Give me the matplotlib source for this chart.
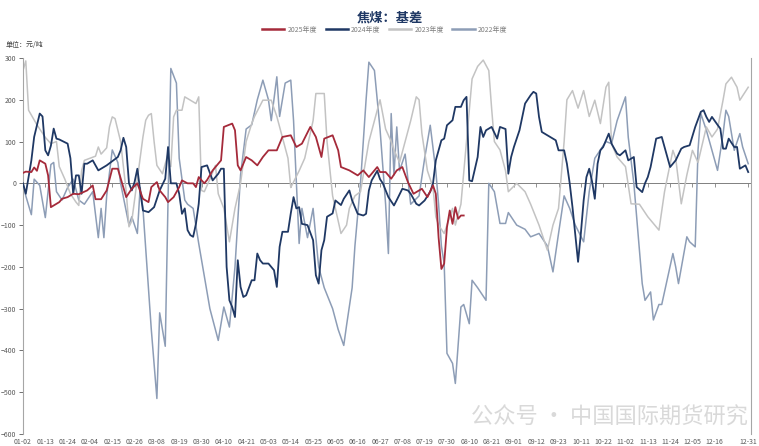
import matplotlib.pyplot as plt

plt.rcParams['font.family'] = ['Noto Sans CJK SC', 'DejaVu Sans']

# x axis: trading-day index, one label every 8 days
tick_labels = ['01-02', '01-13', '01-24', '02-04', '02-15', '02-26', '03-08', '03-19',
               '03-30', '04-10', '04-21', '05-03', '05-14', '05-25', '06-05', '06-16',
               '06-27', '07-08', '07-19', '07-30', '08-10', '08-21', '09-01', '09-12',
               '09-23', '10-11', '10-22', '11-02', '11-13', '11-24', '12-05', '12-16',
               '12-31']
tick_days = list(range(0, 249, 8)) + [260]

# 2025 basis (yuan/ton)
day_2025 = [0, 1, 3, 4, 5, 6, 8, 9, 10, 12, 13, 14, 16, 18, 20, 23, 25, 26, 28, 30,
            32, 34, 37, 39, 41, 43, 45, 46, 48, 49, 51, 52, 54, 56, 57, 59, 61, 62, 63,
            65, 66, 68, 71, 72, 75, 76, 77, 78, 80, 82, 84, 86, 88, 91, 93, 96, 98, 100,
            103, 105, 107, 108, 111, 113, 114, 117, 120, 122, 124, 127, 128, 130, 132,
            134, 136, 138, 140, 143, 145, 147, 148, 149, 150, 151, 152, 153, 154, 155,
            156, 157, 158]
val_2025 = [25, 28, 27, 38, 30, 55, 47, 19, -57, -49, -45, -37, -33, -25, -26, -17, -5,
            -38, -38, -17, 35, 35, -33, -13, 0, -37, -45, -9, 3, -17, -33, -45, -33, -9,
            7, 0, 0, -9, 15, 0, 8, 31, 55, 135, 143, 127, 43, 31, 63, 55, 43, 63, 79, 79,
            111, 115, 87, 95, 135, 111, 63, 107, 115, 79, 39, 31, 19, 31, 15, 39, 27, 27,
            11, 31, 39, 3, -25, -13, -33, -5, -25, -130, -205, -192, -105, -65, -97, -57,
            -85, -77, -77]

# 2024 basis
day_2024 = [0, 1, 3, 4, 6, 7, 8, 9, 10, 11, 12, 13, 16, 17, 18, 19, 20, 21, 22, 23, 25,
            27, 30, 34, 35, 36, 37, 38, 39, 40, 41, 42, 43, 45, 47, 49, 51, 52, 53, 55,
            56, 57, 58, 59, 60, 61, 62, 63, 64, 66, 68, 70, 71, 72, 73, 74, 75, 76, 77,
            78, 79, 80, 82, 83, 84, 85, 86, 88, 90, 91, 92, 93, 95, 96, 97, 98, 99, 100,
            102, 104, 105, 106, 107, 108, 109, 111, 112, 114, 115, 117, 118, 120, 122,
            123, 124, 125, 127, 128, 129, 131, 133, 134, 136, 138, 139, 141, 142, 144,
            146, 147, 148, 150, 151, 152, 154, 155, 157, 158, 159, 160, 161, 163, 164,
            165, 166, 168, 170, 171, 173, 174, 175, 176, 178, 180, 182, 183, 184, 185,
            186, 189, 191, 192, 194, 195, 196, 197, 199, 200, 201, 202, 203, 204, 205,
            206, 207, 208, 210, 211, 213, 214, 216, 217, 219, 220, 222, 223, 224, 225,
            227, 229, 230, 232, 234, 236, 237, 239, 241, 243, 244, 245, 246, 247, 249,
            250, 251, 252, 253, 255, 256, 257, 259, 260]
val_2024 = [0, -25, 55, 111, 167, 160, 79, 67, 90, 131, 107, 105, 95, 60, -25, 19, 19,
            -25, 47, 47, 55, 31, 43, 63, 79, 109, 87, 0, -17, 3, 35, -17, -65, -69, -57,
            -17, 11, 87, 0, 0, -25, -73, -60, -112, -124, -128, -97, -49, 39, 43, 7, 23,
            35, 35, -200, -280, -296, -320, -184, -248, -272, -268, -232, -232, -168,
            -184, -192, -192, -208, -248, -152, -116, -116, -72, -33, -60, -57, -97, -100,
            -136, -220, -240, -160, -136, -80, -72, -41, -52, -37, -17, -41, -73, -77,
            -73, -17, 7, 30, 10, 0, -33, -53, -40, -13, -17, -25, -49, -53, -41, -20, 0,
            55, 103, 107, 139, 151, 183, 183, 199, 207, 7, 5, 63, 135, 111, 127, 135, 107,
            135, 130, 23, 63, 87, 127, 191, 211, 219, 215, 159, 123, 111, 103, 79, 79, 47,
            0, -57, -188, -120, -41, 15, 35, 5, -37, 47, 79, 87, 119, 95, 71, 67, 79, 55,
            63, -9, -21, 0, 15, 39, 107, 111, 87, 39, 55, 83, 87, 91, 135, 171, 175, 159,
            147, 159, 140, 131, 83, 83, 107, 87, 87, 35, 43, 27]

# 2023 basis
day_2023 = [0, 1, 2, 5, 8, 10, 12, 13, 15, 17, 19, 20, 21, 22, 26, 27, 28, 30, 31, 32,
            33, 35, 36, 37, 38, 39, 40, 42, 43, 44, 45, 46, 47, 48, 50, 52, 53, 54, 55,
            57, 58, 60, 62, 63, 64, 65, 67, 69, 70, 72, 74, 76, 78, 80, 82, 83, 86, 89,
            91, 93, 95, 96, 99, 101, 104, 105, 108, 109, 111, 112, 114, 116, 117, 119,
            121, 123, 124, 126, 128, 130, 132, 133, 135, 137, 139, 141, 142, 143, 145,
            147, 148, 149, 151, 154, 155, 157, 159, 161, 163, 165, 167, 168, 169, 171,
            173, 174, 177, 180, 182, 185, 188, 190, 192, 194, 195, 197, 199, 201, 203,
            205, 207, 209, 210, 211, 213, 216, 218, 221, 224, 228, 230, 233, 234, 236,
            238, 240, 242, 245, 247, 249, 251, 252, 254, 256, 257, 260]
val_2023 = [270, 293, 175, 140, 110, 95, 100, 40, 10, -25, -45, -53, 30, 55, 65, 87, 70,
            85, 135, 159, 155, 100, 40, -20, -104, -90, -40, 60, 111, 151, 163, 167, 100,
            43, 23, 71, 40, 159, 175, 175, 207, 199, 191, 207, -17, -20, 10, 43, -25, -60,
            -140, -60, 0, 100, 143, 160, 199, 199, 160, 110, 60, -10, 30, 60, 150, 215,
            215, 100, -30, -60, -120, -100, -60, -30, -20, 60, 100, 150, 200, 130, 100, 80,
            50, 100, 150, 207, 200, 120, 30, -10, -80, -100, -120, -60, -100, -50, 100,
            250, 280, 295, 270, 180, 100, 80, 30, -20, 0, -20, -50, -100, -160, -100, -60,
            100, 200, 222, 180, 222, 160, 199, 143, 230, 242, 95, 63, 40, -49, -50, -80,
            -112, -20, 79, 60, -49, 20, 79, 50, 135, 111, 130, 200, 238, 254, 230, 199, 230]

# 2022 basis
day_2022 = [0, 1, 3, 4, 6, 8, 10, 11, 12, 14, 16, 18, 20, 22, 25, 27, 28, 29, 30, 32, 34,
            35, 38, 39, 41, 42, 43, 46, 48, 49, 51, 52, 53, 55, 56, 58, 59, 61, 63, 67,
            70, 72, 74, 76, 78, 80, 82, 84, 86, 88, 89, 91, 92, 94, 96, 97, 99, 100, 102,
            104, 106, 108, 111, 113, 115, 116, 118, 119, 121, 123, 124, 126, 128, 130,
            131, 132, 133, 134, 135, 137, 139, 142, 144, 146, 148, 149, 150, 151, 152,
            154, 155, 157, 158, 160, 161, 163, 166, 167, 169, 171, 173, 174, 177, 180,
            182, 185, 188, 190, 192, 194, 196, 198, 201, 203, 205, 209, 211, 213, 216,
            217, 219, 220, 222, 223, 225, 226, 228, 229, 233, 234, 235, 238, 239, 241,
            242, 243, 245, 247, 249, 251, 252, 253, 255, 257, 258, 260]
val_2022 = [0, -30, -75, 10, -5, -82, 45, 50, -20, -40, -10, 10, -40, -50, -20, -130, -60,
            -130, -30, 80, 50, 0, -100, -80, -120, -10, -60, -350, -515, -310, -390, -40,
            275, 240, 60, -40, -50, -60, -144, -300, -376, -296, -344, -200, 20, 130, 140,
            200, 247, 200, 150, 255, 160, 240, 247, 150, -144, -60, -130, -60, -200, -250,
            -300, -350, -388, -340, -250, -150, 0, 200, 290, 270, 130, -50, -168, 167, 20,
            135, 30, 70, -50, -30, 60, 139, 30, -50, -150, -192, -407, -431, -479, -296,
            -290, -336, -232, -250, -280, 0, -20, -96, -96, -70, -100, -110, -128, -120,
            -150, -212, -120, -30, -60, -100, -140, -20, 60, 100, 95, 150, 207, 110, 0,
            -80, -240, -280, -260, -327, -290, -290, -168, -200, -240, -128, -140, -152,
            79, 167, 127, 79, 31, 119, 175, 160, 79, 119, 87, 47]

fig = plt.figure(figsize=(7.59, 4.46), dpi=100)
ax = fig.add_axes([23 / 759, 12 / 446, 728 / 759, 376 / 446])

ax.plot(day_2022, val_2022, color='#8D9DB6', lw=1.1, label='2022年度', zorder=2)
ax.plot(day_2023, val_2023, color='#C3C3C3', lw=1.1, label='2023年度', zorder=2)
ax.plot(day_2024, val_2024, color='#1F3864', lw=1.3, label='2024年度', zorder=3)
ax.plot(day_2025, val_2025, color='#A52A3A', lw=1.3, label='2025年度', zorder=4)

ax.axhline(0, color='#808080', lw=0.7, zorder=1)
ax.vlines(tick_days, -8, 0, color='#808080', lw=0.6, zorder=1)

ax.set_xlim(0, 261)
ax.set_ylim(-600, 300)
ax.set_yticks(range(-600, 301, 100))
ax.set_xticks(tick_days)
ax.set_xticklabels(tick_labels)
ax.tick_params(axis='x', length=0, labelsize=5, colors='#595959', pad=3)
ax.tick_params(axis='y', length=3, width=0.6, labelsize=5, colors='#595959', pad=2)
for side in ['top', 'bottom']:
    ax.spines[side].set_visible(False)
ax.spines['left'].set_color('#A6A6A6')
ax.spines['right'].set_color('#A6A6A6')
ax.spines['left'].set_linewidth(0.8)
ax.spines['right'].set_linewidth(0.8)

fig.text(0.514, 0.977, '焦煤：基差', ha='center', va='top', fontsize=9.5,
         fontweight='bold', color='#1F3864')
fig.text(0.007, 1 - 45 / 446, '单位：元/吨', ha='left', va='center', fontsize=5,
         color='#404040')

handles, labels = ax.get_legend_handles_labels()
order = [3, 2, 1, 0]
leg = fig.legend([handles[i] for i in order], [labels[i] for i in order], loc='center',
                 bbox_to_anchor=(0.507, 0.933), ncol=4, frameon=False, fontsize=5,
                 handlelength=3.2, handletextpad=0.5, columnspacing=1.2,
                 labelcolor='#7F7F7F')
for line in leg.get_lines():
    line.set_linewidth(1.8)

fig.text(0.985, 0.065, '公众号 · 中国国际期货研究', ha='right', va='center',
         fontsize=16, color='#D9D9D9', zorder=0)

fig.savefig('out.png', dpi=100)
